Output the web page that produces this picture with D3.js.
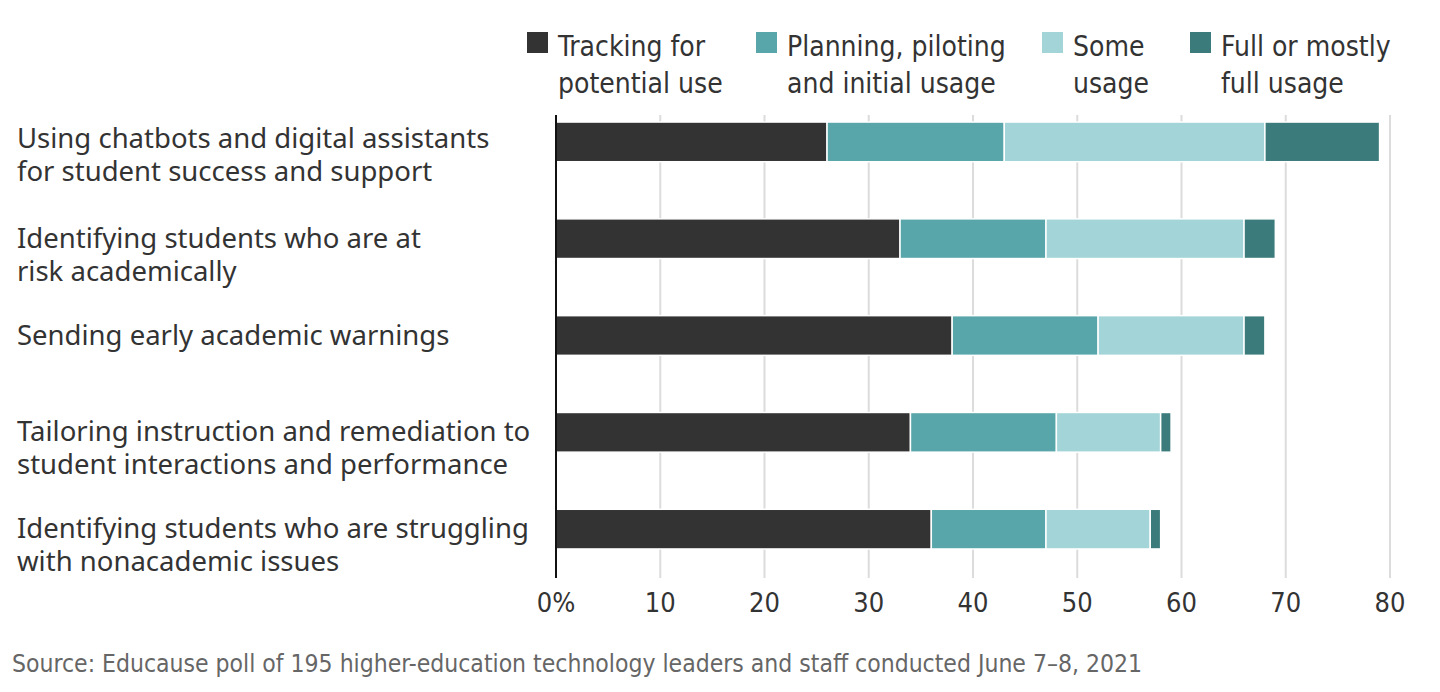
<!DOCTYPE html>
<html><head><meta charset="utf-8">
<script src="https://cdn.jsdelivr.net/npm/d3@7"></script>
<style>
body{margin:0;background:#fff;}
text{fill:#333;}
</style></head>
<body><svg id="c" width="1440" height="692"></svg>
<script>
const categories = [
  ["Using chatbots and digital assistants","for student success and support"],
  ["Identifying students who are at","risk academically"],
  ["Sending early academic warnings"],
  ["Tailoring instruction and remediation to","student interactions and performance"],
  ["Identifying students who are struggling","with nonacademic issues"]
];
const seriesNames = [["Tracking for","potential use"],["Planning, piloting","and initial usage"],["Some","usage"],["Full or mostly","full usage"]];
const tracking = [26,33,38,34,36];
const planning = [17,14,14,14,11];
const some = [25,19,14,10,10];
const full = [11,3,2,1,1];
const tickValues = [0,10,20,30,40,50,60,70,80];
const colors = ["#333333","#58a6a9","#a2d4d8","#3b7b7b"];
const source = "Source: Educause poll of 195 higher-education technology leaders and staff conducted June 7–8, 2021";

const svg = d3.select("#c");
const x = d3.scaleLinear().domain([0,80]).range([556,1390]);
const y = d3.scaleBand().domain(d3.range(5)).range([93,578]).paddingInner(0.59).paddingOuter(0.3);

const labelFont = "'Noto Sans', sans-serif";
const narrow = "'Liberation Sans Narrow','DejaVu Sans Condensed', sans-serif";

// grid
svg.append("g").selectAll("line").data(tickValues.slice(1)).join("line")
  .attr("x1",d=>x(d)).attr("x2",d=>x(d)).attr("y1",115).attr("y2",578)
  .attr("stroke","#dcdcdc").attr("stroke-width",2);

// bars
const series = [tracking,planning,some,full];
const stacked = d3.stack().keys([0,1,2,3]).value((d,k)=>series[k][d])(d3.range(5));
svg.append("g").selectAll("g").data(stacked).join("g")
  .attr("fill",(d,i)=>colors[i])
  .selectAll("rect").data(d=>d.map((v,i)=>({v,i}))).join("rect")
  .attr("x",d=>x(d.v[0])).attr("width",d=>x(d.v[1])-x(d.v[0]))
  .attr("y",d=>y(d.i)).attr("height",y.bandwidth())
  .attr("stroke","#fff").attr("stroke-width",1.5);

// axis line
svg.append("line").attr("x1",x(0)).attr("x2",x(0)).attr("y1",115).attr("y2",578)
  .attr("stroke","#111").attr("stroke-width",2);

// tick labels
svg.append("g").selectAll("text").data(tickValues).join("text")
  .attr("x",d=>x(d)).attr("y",612).attr("text-anchor","middle")
  .style("font-family",narrow).style("font-size","27px")
  .text(d=>d===0?"0%":d);

// category labels
const lg = svg.append("g");
categories.forEach((lines,i)=>{
  const cy = y(i)+y.bandwidth()/2;
  const t = lg.append("text").attr("x",17).attr("y",cy+9 - (i===0?3:0))
    .style("font-family",labelFont).style("font-size","27.5px");
  lines.forEach((l,j)=>t.append("tspan").attr("x",17).attr("dy",j===0?0:33).text(l));
});

// legend
const legX = [527,756,1042,1190];
const leg = svg.append("g");
seriesNames.forEach((lines,i)=>{
  leg.append("rect").attr("x",legX[i]).attr("y",32).attr("width",21).attr("height",21).attr("fill",colors[i]);
  const t = leg.append("text").attr("x",legX[i]+31).attr("y",56)
    .style("font-family",narrow).style("font-size","28px");
  lines.forEach((l,j)=>t.append("tspan").attr("x",legX[i]+31).attr("dy",j===0?0:37).text(l));
});

// source
svg.append("text").attr("x",12).attr("y",672).style("font-family",narrow)
  .style("font-size","24.5px").style("fill","#666").text(source);
</script></body></html>
